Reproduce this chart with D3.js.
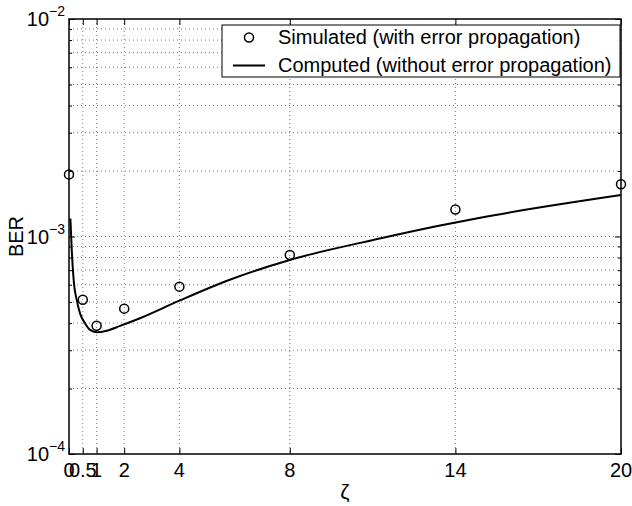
<!DOCTYPE html>
<html lang="en">
<head>
  <meta charset="UTF-8">
  <title>BER vs zeta</title>
  <style>
    body { margin: 0; background: #fff; }
    #viz { width: 632px; height: 506px; }
    text { font-family: "Liberation Sans", Arial, Helvetica, sans-serif; }
  </style>
</head>
<body>
  <div id="viz"></div>
  <script src="https://d3js.org/d3.v7.min.js"></script>
  <script>
    // simulated points (markers)
    const simZeta = [0, 0.5, 1, 2, 4, 8, 14, 20]
    const simBer = [1.93e-3, 5.12e-4, 3.89e-4, 4.66e-4, 5.88e-4, 8.22e-4, 1.33e-3, 1.74e-3]

    // computed curve
    const compZeta = [0.05, 0.1, 0.18, 0.28, 0.4, 0.58, 0.76, 1.0, 1.37, 1.85, 2.57, 4.0, 5.8, 8.0, 11.3, 13.4, 14.9, 20]
    const compBer = [1.21e-3, 8.67e-4, 6.09e-4, 5.11e-4, 4.43e-4, 3.99e-4, 3.72e-4, 3.63e-4, 3.69e-4, 3.88e-4, 4.21e-4, 5.07e-4, 6.31e-4, 7.8e-4, 9.81e-4, 1.12e-3, 1.22e-3, 1.55e-3]

    const xTicks = [0, 0.5, 1, 2, 4, 8, 14, 20]
    const yTicks = [1e-4, 1e-3, 1e-2]
    const yTickExp = ["\u22124", "\u22123", "\u22122"]
    const legendLabels = ["Simulated (with error propagation)", "Computed (without error propagation)"]

    const margin = {top: 19, right: 11, bottom: 52, left: 69}
    const W = 632, H = 506
    const width = W - margin.left - margin.right
    const height = H - margin.top - margin.bottom
    const fs = 20

    let minorTicks = []
    for (let d = -4; d < -2; d++) {
      for (let k = 2; k <= 9; k++) minorTicks.push(k * Math.pow(10, d))
    }

    const svg = d3.select("#viz").append("svg")
      .attr("width", W).attr("height", H)
    const g = svg.append("g")
      .attr("transform", "translate(" + margin.left + "," + margin.top + ")")

    const x = d3.scaleLinear().domain([0, 20]).range([0, width])
    const y = d3.scaleLog().domain([1e-4, 1e-2]).range([height, 0])

    // grid
    const grid = g.append("g").attr("class", "grid")
    grid.selectAll("line.gx").data(xTicks.slice(1, -1)).enter().append("line")
      .attr("x1", d => x(d)).attr("x2", d => x(d))
      .attr("y1", 0).attr("y2", height)
    grid.selectAll("line.gy").data(minorTicks.concat([1e-3])).enter().append("line")
      .attr("x1", 0).attr("x2", width)
      .attr("y1", d => y(d)).attr("y2", d => y(d))
    grid.selectAll("line")
      .attr("stroke", "#777").attr("stroke-width", 1)
      .attr("stroke-dasharray", "1,3")

    // axes, ticks inward
    function styleAxis(sel) {
      sel.select(".domain").remove()
      sel.selectAll("line").attr("stroke", "#000")
    }
    g.append("g").attr("transform", "translate(0," + height + ")")
      .call(d3.axisBottom(x).tickValues(xTicks).tickSize(-6).tickFormat(""))
      .call(styleAxis)
    g.append("g")
      .call(d3.axisTop(x).tickValues(xTicks).tickSize(-6).tickFormat(""))
      .call(styleAxis)
    g.append("g")
      .call(d3.axisLeft(y).tickValues(yTicks).tickSize(-6).tickFormat(""))
      .call(styleAxis)
    g.append("g")
      .call(d3.axisLeft(y).tickValues(minorTicks).tickSize(-3).tickFormat(""))
      .call(styleAxis)
    g.append("g").attr("transform", "translate(" + width + ",0)")
      .call(d3.axisRight(y).tickValues(yTicks).tickSize(-6).tickFormat(""))
      .call(styleAxis)
    g.append("g").attr("transform", "translate(" + width + ",0)")
      .call(d3.axisRight(y).tickValues(minorTicks).tickSize(-3).tickFormat(""))
      .call(styleAxis)

    // x tick labels
    g.selectAll("text.xl").data(xTicks).enter().append("text")
      .attr("x", d => x(d)).attr("y", height + 23)
      .attr("text-anchor", "middle").attr("font-size", fs)
      .text(d => d)

    // y tick labels 10^n
    const yl = g.selectAll("text.yl").data(yTicks).enter().append("text")
      .attr("x", -4).attr("y", d => y(d) + 7)
      .attr("text-anchor", "end").attr("font-size", fs)
    yl.append("tspan").text("10")
    yl.append("tspan").attr("dy", -10).attr("font-size", 14)
      .text((d, i) => yTickExp[i])

    // axis titles
    svg.append("text")
      .attr("x", margin.left + width / 2).attr("y", 499)
      .attr("text-anchor", "middle").attr("font-size", fs + 1)
      .text("\u03b6")
    svg.append("text")
      .attr("transform", "translate(23," + (margin.top + y(1e-3)) + ") rotate(-90)")
      .attr("text-anchor", "middle").attr("font-size", fs)
      .text("BER")

    // computed curve
    const line = d3.line()
      .x(d => x(d[0])).y(d => y(d[1]))
      .curve(d3.curveMonotoneX)
    g.append("path")
      .datum(compZeta.map((z, i) => [z, compBer[i]]))
      .attr("d", line)
      .attr("fill", "none").attr("stroke", "#000").attr("stroke-width", 2)

    // simulated markers
    g.selectAll("circle.sim").data(simZeta.map((z, i) => [z, simBer[i]])).enter()
      .append("circle")
      .attr("cx", d => x(d[0])).attr("cy", d => y(d[1]))
      .attr("r", 4.5)
      .attr("fill", "none").attr("stroke", "#000").attr("stroke-width", 1.5)

    // box
    g.append("rect")
      .attr("width", width).attr("height", height)
      .attr("fill", "none").attr("stroke", "#000").attr("stroke-width", 1.5)

    // legend
    const lg = svg.append("g")
    lg.append("rect")
      .attr("x", 222).attr("y", 25).attr("width", 398).attr("height", 52)
      .attr("fill", "#fff").attr("stroke", "#000").attr("stroke-width", 1)
    lg.append("circle").attr("cx", 249).attr("cy", 37.5).attr("r", 4.5)
      .attr("fill", "none").attr("stroke", "#000").attr("stroke-width", 1.5)
    lg.append("line").attr("x1", 233).attr("x2", 265).attr("y1", 65.5).attr("y2", 65.5)
      .attr("stroke", "#000").attr("stroke-width", 2)
    lg.selectAll("text").data(legendLabels).enter().append("text")
      .attr("x", 278).attr("y", (d, i) => 44 + i * 28)
      .attr("font-size", fs)
      .text(d => d)
  </script>
</body>
</html>
